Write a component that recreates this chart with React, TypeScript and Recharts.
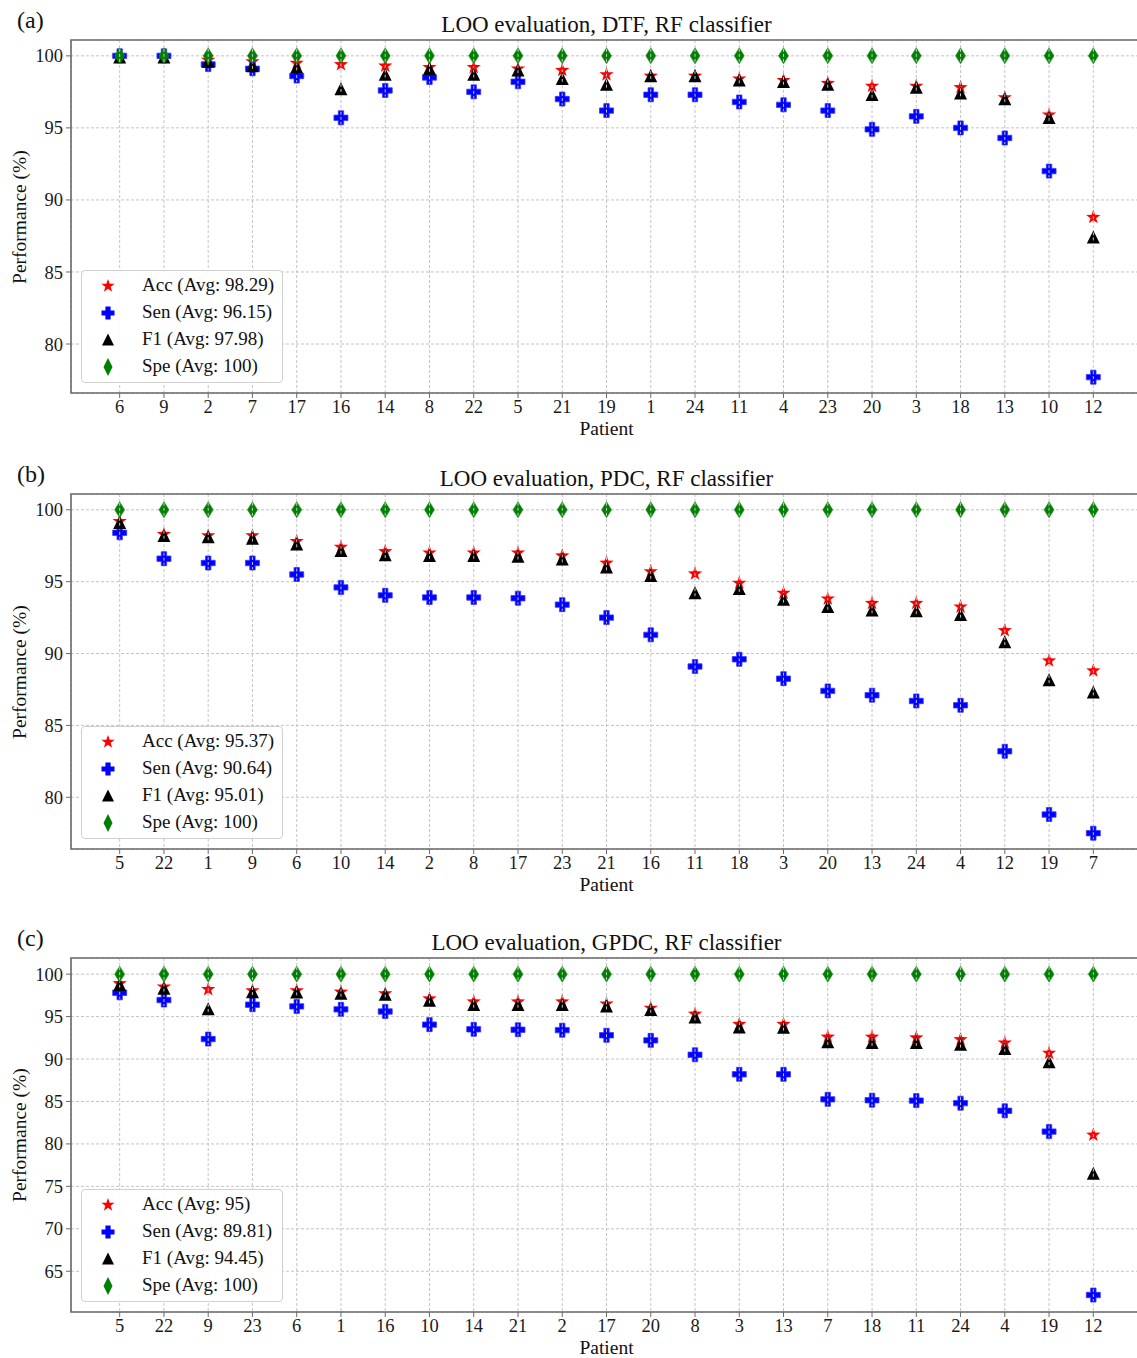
import { ScatterChart, Scatter, XAxis, YAxis, CartesianGrid, ReferenceArea } from "recharts";

// (a) DTF
const dtfPatients = ["6", "9", "2", "7", "17", "16", "14", "8", "22", "5", "21", "19", "1", "24", "11", "4", "23", "20", "3", "18", "13", "10", "12"];
const dtfAcc = [100, 100, 99.7, 99.6, 99.5, 99.4, 99.3, 99.2, 99.2, 99.1, 99.0, 98.7, 98.6, 98.6, 98.4, 98.3, 98.1, 97.9, 97.9, 97.8, 97.1, 95.9, 88.8];
const dtfSen = [100, 100, 99.4, 99.1, 98.6, 95.7, 97.6, 98.5, 97.5, 98.2, 97.0, 96.2, 97.3, 97.3, 96.8, 96.6, 96.2, 94.9, 95.8, 95.0, 94.3, 92.0, 77.7];
const dtfF1 = [99.9, 99.9, 99.6, 99.3, 99.2, 97.7, 98.7, 99.1, 98.7, 99.0, 98.4, 98.0, 98.6, 98.6, 98.3, 98.2, 98.0, 97.3, 97.8, 97.4, 97.0, 95.7, 87.4];
const dtfSpe = [100, 100, 100, 100, 100, 100, 100, 100, 100, 100, 100, 100, 100, 100, 100, 100, 100, 100, 100, 100, 100, 100, 100];

// (b) PDC
const pdcPatients = ["5", "22", "1", "9", "6", "10", "14", "2", "8", "17", "23", "21", "16", "11", "18", "3", "20", "13", "24", "4", "12", "19", "7"];
const pdcAcc = [99.2, 98.3, 98.2, 98.2, 97.8, 97.4, 97.1, 97.0, 97.0, 97.0, 96.8, 96.3, 95.7, 95.55, 94.9, 94.2, 93.8, 93.5, 93.5, 93.25, 91.6, 89.5, 88.8];
const pdcSen = [98.4, 96.6, 96.3, 96.3, 95.5, 94.6, 94.05, 93.9, 93.9, 93.85, 93.4, 92.5, 91.3, 89.1, 89.6, 88.25, 87.4, 87.1, 86.7, 86.4, 83.2, 78.8, 77.5];
const pdcF1 = [99.1, 98.2, 98.1, 98.0, 97.6, 97.15, 96.85, 96.8, 96.8, 96.75, 96.55, 96.0, 95.4, 94.2, 94.5, 93.75, 93.25, 93.0, 92.95, 92.7, 90.8, 88.15, 87.3];
const pdcSpe = [100, 100, 100, 100, 100, 100, 100, 100, 100, 100, 100, 100, 100, 100, 100, 100, 100, 100, 100, 100, 100, 100, 100];

// (c) GPDC
const gpdcPatients = ["5", "22", "9", "23", "6", "1", "16", "10", "14", "21", "2", "17", "20", "8", "3", "13", "7", "18", "11", "24", "4", "19", "12"];
const gpdcAcc = [98.9, 98.5, 98.2, 98.05, 98.05, 97.9, 97.7, 97.1, 96.75, 96.75, 96.75, 96.5, 96.0, 95.3, 94.1, 94.1, 92.6, 92.6, 92.5, 92.3, 91.9, 90.7, 81.05];
const gpdcSen = [97.8, 96.95, 92.35, 96.4, 96.2, 95.85, 95.6, 94.05, 93.5, 93.45, 93.4, 92.8, 92.2, 90.5, 88.2, 88.2, 85.25, 85.15, 85.1, 84.8, 83.9, 81.45, 62.2];
const gpdcF1 = [98.75, 98.3, 95.9, 97.9, 97.85, 97.7, 97.6, 96.9, 96.4, 96.4, 96.4, 96.2, 95.8, 94.9, 93.75, 93.7, 92.0, 91.9, 91.9, 91.7, 91.2, 89.65, 76.5];
const gpdcSpe = [100, 100, 100, 100, 100, 100, 100, 100, 100, 100, 100, 100, 100, 100, 100, 100, 100, 100, 100, 100, 100, 100, 100];

const FONT = "'Liberation Serif', 'DejaVu Serif', serif";
const GRID = "#c4c4c4";
const FRAME = "#6a6a6a";

// grid shows through the markers in the original, so draw the vertical dash over them
const gridThrough = (cx: number, cy: number, h: number) => (
  <line x1={cx} x2={cx} y1={cy - h} y2={cy + h} stroke={GRID} strokeWidth={1} strokeDasharray="3 2" />
);

const starPath = (cx: number, cy: number, ro: number, ri: number) => {
  const pts: string[] = [];
  for (let k = 0; k < 10; k++) {
    const r = k % 2 === 0 ? ro : ri;
    const a = -Math.PI / 2 + (k * Math.PI) / 5;
    pts.push(`${(cx + r * Math.cos(a)).toFixed(2)},${(cy + r * Math.sin(a)).toFixed(2)}`);
  }
  return pts.join(" ");
};

const StarMark = (props: any) => {
  const { cx, cy } = props;
  if (cx == null || cy == null) return null;
  return (
    <g>
      <polygon points={starPath(cx, cy, 7.5, 3)} fill="#ff0000" />
      {gridThrough(cx, cy, 6)}
    </g>
  );
};

const plusPath = (cx: number, cy: number, s: number, w: number) =>
  `M${cx - w},${cy - s}H${cx + w}V${cy - w}H${cx + s}V${cy + w}H${cx + w}V${cy + s}H${cx - w}V${cy + w}H${cx - s}V${cy - w}H${cx - w}Z`;

const PlusMark = (props: any) => {
  const { cx, cy } = props;
  if (cx == null || cy == null) return null;
  return (
    <g>
      <path d={plusPath(cx, cy, 7, 2.7)} fill="#0000ff" stroke="#3b3bff" strokeWidth={0.8} />
      {gridThrough(cx, cy, 6)}
    </g>
  );
};

const TriMark = (props: any) => {
  const { cx, cy } = props;
  if (cx == null || cy == null) return null;
  return (
    <g>
      <polygon points={`${cx},${cy - 6.8} ${cx + 6.5},${cy + 6.2} ${cx - 6.5},${cy + 6.2}`} fill="#000000" />
      {gridThrough(cx, cy, 5)}
    </g>
  );
};

const DiamondMark = (props: any) => {
  const { cx, cy } = props;
  if (cx == null || cy == null) return null;
  return (
    <g>
      <polygon points={`${cx},${cy - 8} ${cx + 5},${cy} ${cx},${cy + 8} ${cx - 5},${cy}`} fill="#008000" stroke="#1f8f1f" strokeWidth={0.6} />
      {gridThrough(cx, cy, 7)}
    </g>
  );
};

const LegendBox = ({ top, labels }: { top: number; labels: string[] }) => {
  const icons = [
    <polygon key="s" points={starPath(10, 10, 7, 2.8)} fill="#ff0000" />,
    <path key="p" d={plusPath(10, 10, 6.5, 2.6)} fill="#0000ff" />,
    <polygon key="t" points="10,3.5 16,15.5 4,15.5" fill="#000" />,
    <polygon key="d" points="10,1 14.5,10 10,19 5.5,10" fill="#008000" />,
  ];
  return (
    <div
      style={{
        position: "absolute",
        left: 81,
        top,
        width: 202,
        height: 113,
        border: "1px solid #d0d0d0",
        borderRadius: 4,
        background: "rgba(255,255,255,0.9)",
        boxSizing: "border-box",
      }}
    >
      {labels.map((t, i) => (
        <div key={t} style={{ position: "absolute", left: 0, top: 4 + i * 27, height: 22, width: 200 }}>
          <svg width={20} height={20} style={{ position: "absolute", left: 16, top: 1 }}>
            {icons[i]}
          </svg>
          <span style={{ position: "absolute", left: 60, top: -1, fontSize: 19, lineHeight: "22px", color: "#111", whiteSpace: "nowrap" }}>
            {t}
          </span>
        </div>
      ))}
    </div>
  );
};

type PanelProps = {
  top: number;
  height: number;
  plotTop: number;
  plotBottom: number;
  tag: string;
  title: string;
  patients: string[];
  acc: number[];
  sen: number[];
  f1: number[];
  spe: number[];
  yDomain: [number, number];
  yTicks: number[];
  legend: string[];
};

const CHART_W = 1150;
const PLOT_LEFT = 71;
const PLOT_RIGHT = 1142;
const X_AXIS_H = 30;
const TICK_FONT = 18.5;

const Panel = (p: PanelProps) => {
  const n = p.patients.length;
  const pad = (n - 1) * 0.05;
  const xDomain: [number, number] = [-pad, n - 1 + pad];
  const toPts = (vals: number[]) => vals.map((y, i) => ({ x: i, y }));
  const idx = p.patients.map((_, i) => i);
  const midY = (p.plotTop + p.plotBottom) / 2;
  const midX = (PLOT_LEFT + PLOT_RIGHT) / 2;

  return (
    <div style={{ position: "absolute", left: 0, top: p.top, width: 1137, height: p.height }}>
      <div style={{ position: "absolute", left: 17, top: p.plotTop - 33, fontSize: 24, lineHeight: "26px", color: "#111" }}>
        {p.tag}
      </div>
      <div
        style={{
          position: "absolute",
          left: midX - 300,
          width: 600,
          textAlign: "center",
          top: p.plotTop - 28,
          fontSize: 23,
          lineHeight: "26px",
          color: "#111",
        }}
      >
        {p.title}
      </div>
      <ScatterChart
        width={CHART_W}
        height={p.height}
        margin={{ top: p.plotTop, right: CHART_W - PLOT_RIGHT, bottom: p.height - p.plotBottom - X_AXIS_H, left: 0 }}
      >
        <CartesianGrid stroke={GRID} strokeDasharray="3 2" strokeWidth={1} />
        <XAxis
          type="number"
          dataKey="x"
          domain={xDomain}
          ticks={idx}
          interval={0}
          allowDataOverflow
          height={X_AXIS_H}
          tickFormatter={(v: number) => p.patients[v] ?? ""}
          tick={{ fill: "#1a1a1a", fontSize: TICK_FONT, fontFamily: FONT }}
          tickSize={5}
          tickMargin={2}
          tickLine={{ stroke: FRAME }}
          axisLine={false}
        />
        <YAxis
          type="number"
          dataKey="y"
          domain={p.yDomain}
          ticks={p.yTicks}
          interval={0}
          allowDataOverflow
          width={PLOT_LEFT}
          tick={{ fill: "#1a1a1a", fontSize: TICK_FONT, fontFamily: FONT }}
          tickSize={5}
          tickMargin={3}
          tickLine={{ stroke: FRAME }}
          axisLine={false}
        />
        <ReferenceArea
          x1={xDomain[0]}
          x2={xDomain[1]}
          y1={p.yDomain[0]}
          y2={p.yDomain[1]}
          fill="none"
          fillOpacity={0}
          stroke={FRAME}
          strokeWidth={1.6}
          ifOverflow="visible"
        />
        <Scatter name="Acc" data={toPts(p.acc)} shape={StarMark} isAnimationActive={false} />
        <Scatter name="Sen" data={toPts(p.sen)} shape={PlusMark} isAnimationActive={false} />
        <Scatter name="F1" data={toPts(p.f1)} shape={TriMark} isAnimationActive={false} />
        <Scatter name="Spe" data={toPts(p.spe)} shape={DiamondMark} isAnimationActive={false} />
      </ScatterChart>
      <div
        style={{
          position: "absolute",
          left: midX - 100,
          width: 200,
          textAlign: "center",
          top: p.plotBottom + 25,
          fontSize: 19.5,
          lineHeight: "22px",
          color: "#111",
        }}
      >
        Patient
      </div>
      <div
        style={{
          position: "absolute",
          left: 20 - 100,
          top: midY - 11,
          width: 200,
          textAlign: "center",
          fontSize: 19.5,
          lineHeight: "22px",
          color: "#111",
          transform: "rotate(-90deg)",
          whiteSpace: "nowrap",
        }}
      >
        Performance (%)
      </div>
      <LegendBox top={p.plotBottom - 123} labels={p.legend} />
    </div>
  );
};

export default function App() {
  return (
    <div
      style={{
        position: "absolute",
        left: 0,
        top: 0,
        width: 1137,
        height: 1358,
        overflow: "hidden",
        background: "#fff",
        fontFamily: FONT,
      }}
    >
      <Panel
        top={0}
        height={445}
        plotTop={40}
        plotBottom={393}
        tag="(a)"
        title="LOO evaluation, DTF, RF classifier"
        patients={dtfPatients}
        acc={dtfAcc}
        sen={dtfSen}
        f1={dtfF1}
        spe={dtfSpe}
        yDomain={[76.6, 101.1]}
        yTicks={[80, 85, 90, 95, 100]}
        legend={["Acc (Avg: 98.29)", "Sen (Avg: 96.15)", "F1 (Avg: 97.98)", "Spe (Avg: 100)"]}
      />
      <Panel
        top={455}
        height={445}
        plotTop={39}
        plotBottom={394}
        tag="(b)"
        title="LOO evaluation, PDC, RF classifier"
        patients={pdcPatients}
        acc={pdcAcc}
        sen={pdcSen}
        f1={pdcF1}
        spe={pdcSpe}
        yDomain={[76.4, 101.1]}
        yTicks={[80, 85, 90, 95, 100]}
        legend={["Acc (Avg: 95.37)", "Sen (Avg: 90.64)", "F1 (Avg: 95.01)", "Spe (Avg: 100)"]}
      />
      <Panel
        top={918}
        height={440}
        plotTop={40}
        plotBottom={394}
        tag="(c)"
        title="LOO evaluation, GPDC, RF classifier"
        patients={gpdcPatients}
        acc={gpdcAcc}
        sen={gpdcSen}
        f1={gpdcF1}
        spe={gpdcSpe}
        yDomain={[60.2, 101.9]}
        yTicks={[65, 70, 75, 80, 85, 90, 95, 100]}
        legend={["Acc (Avg: 95)", "Sen (Avg: 89.81)", "F1 (Avg: 94.45)", "Spe (Avg: 100)"]}
      />
    </div>
  );
}
